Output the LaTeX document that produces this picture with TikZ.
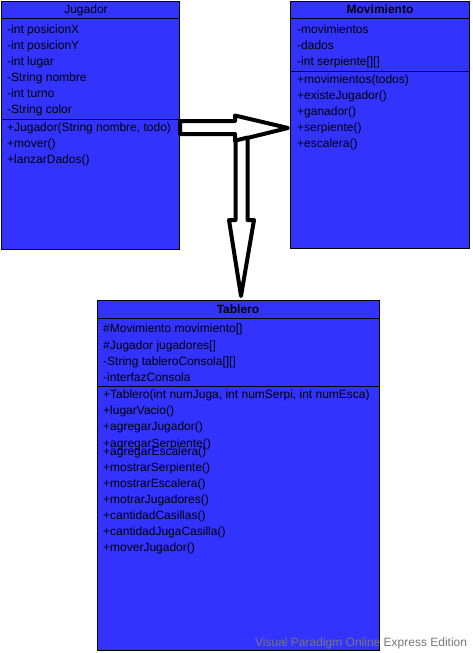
\documentclass[tikz,border=0pt]{standalone}
\usepackage{fontspec}
\setmainfont{Liberation Sans}
\definecolor{umlblue}{RGB}{51,51,255}
\definecolor{wmgray}{RGB}{118,118,118}
\begin{document}
\begin{tikzpicture}[x=1pt,y=-1pt,
  umlbox/.style={draw=black, line width=1pt, fill=umlblue, rectangle, inner sep=0pt, anchor=north west},
  txt/.style={anchor=base west, inner sep=0pt, font=\fontsize{12}{14}\selectfont},
  ttl/.style={anchor=base, inner sep=0pt, font=\fontsize{12}{14}\selectfont},
  sepline/.style={draw=black, line width=1pt},
  fat/.style={draw=black, line width=4pt, fill=white, line join=round}]
\useasboundingbox (0,0) rectangle (472,653);

% Jugador
\node[umlbox, minimum width=178pt, minimum height=248pt] (jug) at (1,1) {};
\draw[sepline] (1,18) -- (179,18);
\draw[sepline] (1,119) -- (179,119);
\node[ttl] (jugT) at (86,13) {Jugador};
\node[txt] (ja1) at (7,33) {-int posicionX};
\node[txt] (ja2) at (7,49) {-int posicionY};
\node[txt] (ja3) at (7,65) {-int lugar};
\node[txt] (ja4) at (7,81) {-String nombre};
\node[txt] (ja5) at (7,97) {-int turno};
\node[txt] (ja6) at (7,113) {-String color};
\node[txt] (jm1) at (7,131) {+Jugador(String nombre, todo)};
\node[txt] (jm2) at (7,147) {+mover()};
\node[txt] (jm3) at (7,163) {+lanzarDados()};

% Movimiento
\node[umlbox, minimum width=179pt, minimum height=247pt] (mov) at (290,1) {};
\draw[sepline] (290,18) -- (469,18);
\draw[sepline] (290,71) -- (469,71);
\node[ttl, font=\fontsize{12}{14}\selectfont\bfseries] (movT) at (380,13) {Movimiento};
\node[txt] (ma1) at (297,33) {-movimientos};
\node[txt] (ma2) at (297,49) {-dados};
\node[txt] (ma3) at (297,65) {-int serpiente[][]};
\node[txt] (mm1) at (297,83) {+movimientos(todos)};
\node[txt] (mm2) at (297,99) {+existeJugador()};
\node[txt] (mm3) at (297,115) {+ganador()};
\node[txt] (mm4) at (297,131) {+serpiente()};
\node[txt] (mm5) at (297,147) {+escalera()};

% Tablero
\node[umlbox, minimum width=282pt, minimum height=350pt] (tab) at (97,300) {};
\draw[sepline] (97,318) -- (379,318);
\draw[sepline] (97,386) -- (379,386);
\node[ttl, font=\fontsize{12}{14}\selectfont\bfseries] (tabT) at (238,313) {Tablero};
\node[txt] (ta1) at (103,332) {\#Movimiento movimiento[]};
\node[txt] (ta2) at (103,349) {\#Jugador jugadores[]};
\node[txt] (ta3) at (103,365) {-String tableroConsola[][]};
\node[txt] (ta4) at (103,381) {-interfazConsola};
\node[txt] (tm1) at (103,398) {+Tablero(int numJuga, int numSerpi, int numEsca)};
\node[txt] (tm2) at (103,414) {+lugarVacio()};
\node[txt] (tm3) at (103,430) {+agregarJugador()};
\node[txt] (tm4) at (103,447) {+agregarSerpiente()};
\node[txt] (tm5) at (103,455) {+agregarEscalera()};
\node[txt] (tm6) at (103,471) {+mostrarSerpiente()};
\node[txt] (tm7) at (103,487) {+mostrarEscalera()};
\node[txt] (tm8) at (103,503) {+motrarJugadores()};
\node[txt] (tm9) at (103,519) {+cantidadCasillas()};
\node[txt] (tm10) at (103,535) {+cantidadJugaCasilla()};
\node[txt] (tm11) at (103,551) {+moverJugador()};

% hollow arrows
\draw[fat] (180,121) -- (235,121) -- (235,115.5) -- (288,128) -- (235,141) -- (235,134) -- (180,134) -- cycle;
\draw[fat] (235.5,140.5) -- (235.5,220) -- (229,220) -- (241,296) -- (254,220) -- (247.5,220) -- (247.5,137.6) -- cycle;

% watermark
\node[txt, text=wmgray] (wm) at (255,646) {Visual Paradigm Online Express Edition};
\end{tikzpicture}
\end{document}
